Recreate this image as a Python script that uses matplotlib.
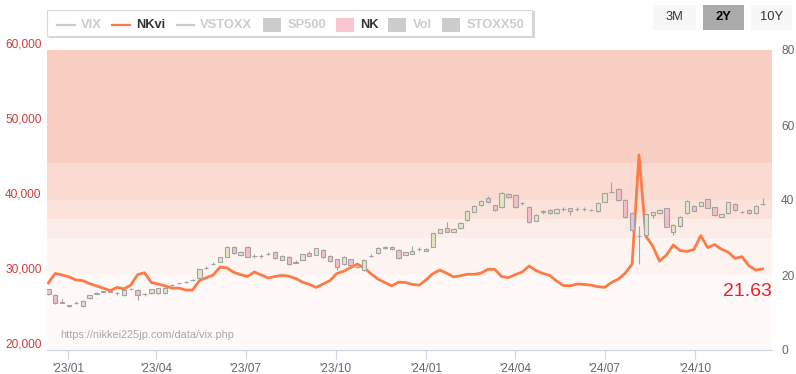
import matplotlib
matplotlib.use("Agg")
import matplotlib.pyplot as plt
import matplotlib.dates as mdates
import matplotlib.patches as mpatches
from matplotlib.lines import Line2D
from matplotlib.transforms import ScaledTranslation
import pandas as pd
import numpy as np

plt.rcParams['font.family'] = ['Liberation Sans', 'DejaVu Sans']

# ---------------- data ----------------
week_start = "2022-12-12"
n_weeks = 105

nkvi = [17.9, 20.4, 20.0, 19.5, 18.7, 18.5, 17.7, 17.1, 16.5, 15.8,
        16.7, 16.3, 17.3, 20.1, 20.6, 18.0, 17.6, 17.1, 16.5, 16.5,
        16.0, 16.0, 18.5, 19.3, 20.0, 22.1, 21.9, 20.7, 20.1, 19.6,
        20.8, 20.0, 19.2, 19.6, 19.9, 19.7, 19.1, 18.1, 17.5, 16.7,
        17.6, 18.5, 20.4, 21.0, 22.0, 22.9, 21.9, 20.3, 18.9, 18.0,
        17.1, 18.1, 18.0, 17.5, 17.3, 18.7, 20.4, 21.3, 20.5, 19.5,
        19.8, 20.2, 20.2, 20.5, 21.5, 21.5, 19.6, 19.3, 20.1, 20.8,
        22.4, 21.2, 20.4, 19.9, 18.4, 17.2, 17.1, 17.6, 17.5, 17.3,
        16.9, 16.7, 18.0, 18.9, 20.5, 22.9, 52.0, 30.4, 27.7, 23.7,
        25.3, 28.0, 26.5, 26.3, 26.8, 30.5, 27.3, 28.1, 26.9, 26.1,
        24.4, 24.9, 22.5, 21.3, 21.63]

nk_open = [28100, 27330, 26300, 25900, 26200, 25870, 26890, 27530, 27750, 27800,
           27540, 27330, 28150, 28000, 27400, 27560, 27560, 27560, 28650, 28870,
           29080, 29300, 29560, 30870, 31450, 31770, 32440, 33770, 32670, 33770,
           32500, 32500, 32780, 33110, 32000, 32440, 31650, 32000, 32890, 32670,
           33330, 32570, 32090, 31470, 32090, 31080, 30670, 32510, 32890, 33620,
           33770, 33330, 32670, 32800, 33440, 33200, 33770, 35640, 36230, 35770,
           36230, 37330, 38440, 39330, 40230, 39330, 39030, 40800, 40670, 39540,
           39110, 37240, 38420, 38670, 38230, 38740, 38890, 38780, 38780, 38640,
           38530, 39770, 41080, 41430, 40000, 38230, 35250, 35330, 38000, 38230,
           38890, 35770, 36530, 38230, 39200, 39240, 40090, 39030, 37770, 38230,
           39470, 38340, 38670, 38230, 39440]
nk_close = [27470, 26300, 26350, 25950, 26250, 26570, 27330, 27580, 27800, 27750,
            27580, 28000, 28100, 27330, 27450, 28090, 28230, 28230, 28700, 28920,
            29130, 29360, 30760, 30920, 31500, 32360, 33770, 32890, 33110, 32440,
            32560, 32560, 32830, 32230, 32570, 31470, 31700, 32760, 32570, 33560,
            32360, 31870, 31030, 32440, 31330, 31130, 32000, 32560, 33640, 33670,
            33430, 32230, 33030, 33240, 33490, 33470, 35560, 36090, 35770, 36130,
            36970, 38570, 39200, 39910, 39690, 38670, 40970, 40360, 39030, 39590,
            37030, 38000, 38470, 38230, 38800, 38790, 38530, 38830, 38830, 38690,
            39640, 40890, 41130, 40000, 37690, 36000, 35150, 38130, 38360, 38670,
            36440, 36670, 37770, 39910, 38570, 39690, 38970, 38000, 38130, 39690,
            38670, 38390, 38230, 39200, 39490]
nk_high = [28200, 27450, 26750, 26000, 26600, 26650, 27400, 27700, 27850, 27850,
           27800, 28100, 28250, 28100, 27650, 28200, 28300, 28350, 28850, 29000,
           29200, 29450, 30850, 31200, 31800, 32450, 33850, 33850, 33200, 33850,
           32800, 32800, 33050, 33200, 32650, 32550, 32000, 32850, 33230, 33650,
           33450, 32650, 32150, 32550, 32200, 31350, 32100, 32800, 33750, 33900,
           33850, 33400, 33100, 33900, 33700, 33550, 35650, 36200, 37100, 36250,
           37100, 38700, 39300, 40000, 40500, 39400, 41050, 40900, 40750, 39800,
           39200, 38100, 38700, 38750, 38900, 39050, 39000, 39100, 39050, 38800,
           39750, 41000, 42440, 41550, 40100, 38350, 36500, 38250, 38450, 38750,
           39000, 36750, 37850, 40000, 39300, 39800, 40200, 39100, 38200, 39800,
           39550, 38500, 38750, 39300, 40230]
nk_low = [27350, 26200, 26250, 25800, 26150, 25800, 26850, 27450, 27700, 27700,
          27350, 27250, 28050, 26670, 27200, 27500, 27500, 27450, 28500, 28800,
          29000, 29250, 29500, 30800, 31400, 31700, 32400, 32800, 32550, 32350,
          32300, 32300, 32600, 32150, 31950, 31400, 31600, 31950, 32500, 32600,
          32300, 31800, 30670, 31400, 31250, 30900, 30600, 32450, 32800, 33400,
          33350, 32150, 32600, 32750, 33250, 33150, 33700, 35550, 35700, 35700,
          36150, 37250, 38350, 39250, 39600, 38550, 38950, 40300, 38950, 39300,
          36900, 37150, 38200, 38150, 38150, 38500, 38000, 38550, 38550, 38500,
          38450, 39700, 41000, 39900, 37600, 35900, 31470, 35250, 37600, 38150,
          36350, 35350, 36450, 38150, 38500, 39150, 38900, 37900, 37700, 38150,
          38600, 38250, 38150, 38150, 39300]

band_edges = [0, 20, 30, 35, 40, 50, 80]
band_colors = ['#fffaf9', '#fef5f2', '#fdede8', '#fbe3dc', '#fadad1', '#f9cfc4']

vol_ticks = [0, 20, 40, 60, 80]
nk_ticks = [20000, 30000, 40000, 50000, 60000]
x_tick_dates = ['2023-01-01', '2023-04-01', '2023-07-01', '2023-10-01',
                '2024-01-01', '2024-04-01', '2024-07-01', '2024-10-01']
x_tick_labels = ["'23/01", "'23/04", "'23/07", "'23/10",
                 "'24/01", "'24/04", "'24/07", "'24/10"]
last_label = "21.63"
legend_items = [("VIX", "line", False), ("NKvi", "line", True), ("VSTOXX", "line", False),
                ("SP500", "box", False), ("NK", "box", True), ("Vol", "box", False),
                ("STOXX50", "box", False)]
buttons = ["3M", "2Y", "10Y"]
watermark = "https://nikkei225jp.com/data/vix.php"

# ---------------- figure ----------------
W, H = 796, 374
fig = plt.figure(figsize=(W / 100, H / 100), dpi=100)
fig.patch.set_facecolor('white')

def fx(x):
    return x / W

def fy(y):
    return 1 - y / H

L, R, T, B = 46.5, 772, 50, 350
ax = fig.add_axes([fx(L), fy(B), (R - L) / W, (B - T) / H])
ax2 = ax.twinx()

dates = pd.date_range(week_start, periods=n_weeks, freq='7D')
xd = mdates.date2num(dates)

# bands (vol axis)
for i in range(len(band_colors)):
    ax.axhspan(band_edges[i], band_edges[i + 1], color=band_colors[i], lw=0, zorder=0)

ax.plot(xd, nkvi, color='#ff7a45', lw=2.0, zorder=3, solid_joinstyle='round')
ax.set_ylim(0, 80)
ax.yaxis.tick_right()
ax.set_yticks(vol_ticks)
ax.tick_params(axis='y', length=0, pad=6.5, labelsize=8.6, labelcolor='#666666')

# candles (NK axis)
up_fill, dn_fill, edge = '#e2e6c4', '#f6bec8', '#a3a3a3'
for xi, o, c, h, l in zip(xd, nk_open, nk_close, nk_high, nk_low):
    ax2.vlines(xi, l, h, color=edge, lw=0.8, zorder=2)
    body = abs(c - o)
    fill = up_fill if c >= o else dn_fill
    ax2.bar(xi, max(body, 40), bottom=min(o, c), width=4.4, color=fill,
            edgecolor=edge, linewidth=0.8, zorder=3)
ax2.set_ylim(20000, 60000)
ax2.yaxis.tick_left()
ax2.set_yticks(nk_ticks)
ax2.set_yticklabels([f"{v:,}" for v in nk_ticks])
ax2.tick_params(axis='y', length=0, pad=3.6, labelsize=8.6, labelcolor='#d03c3c')
for lab in ax2.get_yticklabels():
    lab.set_transform(lab.get_transform() + ScaledTranslation(0, 0.07, fig.dpi_scale_trans))

# x axis
xl = mdates.date2num(pd.Timestamp('2023-01-01')) + np.array([-21.9, 717.6])
ax.set_xlim(*xl)
ax.set_xticks(mdates.date2num(pd.to_datetime(x_tick_dates)))
ax.set_xticklabels(x_tick_labels)
ax.tick_params(axis='x', length=6.5, width=0.8, color='#ccd6eb', pad=2.5,
               labelsize=8.6, labelcolor='#666666')

for a in (ax, ax2):
    for s in a.spines.values():
        s.set_visible(False)
ax.spines['bottom'].set_visible(True)
ax.spines['bottom'].set_color('#ccd6eb')
ax.spines['bottom'].set_linewidth(0.8)

# last value label
fig.text(fx(772), fy(292), last_label, ha='right', va='center', fontsize=14,
         color='#e8212b')

# watermark
fig.text(fx(60), fy(335.5), watermark, ha='left', va='center', fontsize=7.8,
         color='#a8a8a8')

# legend box
shadow = mpatches.Rectangle((fx(48.5), fy(37.5)), (533 - 47) / W, (37.5 - 10.5) / H,
                            transform=fig.transFigure, facecolor='#d6d6d6', edgecolor='none')
fig.add_artist(shadow)
box = mpatches.Rectangle((fx(47), fy(36)), (532 - 47) / W, (36 - 9.5) / H,
                         transform=fig.transFigure, facecolor='white',
                         edgecolor='#d8d8d8', linewidth=0.8)
fig.add_artist(box)

item_x = [57.3, 112.3, 176.7, 263.3, 336, 388.3, 442.3]
ly = 25
for (name, kind, vis), x0 in zip(legend_items, item_x):
    tcol = '#333333' if vis else '#cccccc'
    if kind == 'line':
        col = '#ff7a45' if vis else '#cccccc'
        fig.add_artist(Line2D([fx(x0), fx(x0 + 17.5)], [fy(ly), fy(ly)],
                              transform=fig.transFigure, color=col, lw=1.6))
        tx = x0 + 23.5
    else:
        col = '#f8c7cf' if vis else '#cccccc'
        fig.add_artist(mpatches.Rectangle((fx(x0), fy(ly + 6.5)), 17.5 / W, 13 / H,
                                          transform=fig.transFigure, facecolor=col,
                                          edgecolor='none'))
        tx = x0 + 24.5
    fig.text(fx(tx), fy(ly), name, ha='left', va='center', fontsize=9.3,
             fontweight='bold', color=tcol)

# range buttons
btn_boxes = [(653, 696), (703, 744), (751, 792)]
for name, (x0, x1) in zip(buttons, btn_boxes):
    sel = name == "2Y"
    fig.add_artist(mpatches.Rectangle((fx(x0), fy(30)), (x1 - x0) / W, 25 / H,
                                      transform=fig.transFigure,
                                      facecolor='#aaaaaa' if sel else '#f7f7f7',
                                      edgecolor='none'))
    fig.text(fx((x0 + x1) / 2), fy(17.5), name, ha='center', va='center',
             fontsize=9.3, color='#000000' if sel else '#333333',
             fontweight='bold' if sel else 'normal')

fig.savefig('out.png', dpi=100, facecolor='white')
